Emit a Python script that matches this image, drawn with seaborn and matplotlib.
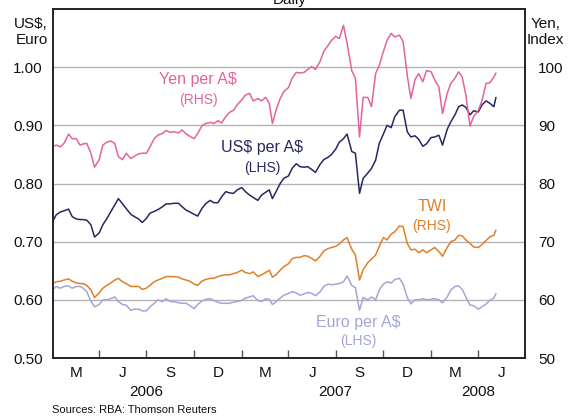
import pandas as pd
import numpy as np
import matplotlib
matplotlib.use("Agg")
import matplotlib.pyplot as plt
import matplotlib.dates as mdates
import seaborn as sns

dates = [f"{y}-{m:02d}-{d:02d}" for y in (2006, 2007, 2008) for m in range(1, 13)
         for d in (1, 8, 16, 23) if (y, m) <= (2008, 4)] + ["2008-05-01", "2008-05-05"]

# US$ per A$ (LHS)
usd = [0.734, 0.746, 0.751, 0.753, 0.756, 0.743, 0.739, 0.738, 0.738, 0.737,
       0.729, 0.708, 0.715, 0.729, 0.740, 0.751, 0.763, 0.774, 0.765, 0.757,
       0.747, 0.743, 0.739, 0.733, 0.740, 0.749, 0.752, 0.755, 0.760, 0.765,
       0.765, 0.766, 0.766, 0.760, 0.754, 0.751, 0.747, 0.744, 0.757, 0.765,
       0.771, 0.767, 0.767, 0.777, 0.786, 0.784, 0.783, 0.789, 0.793, 0.786,
       0.780, 0.776, 0.771, 0.780, 0.785, 0.789, 0.774, 0.786, 0.800, 0.809, 0.813,
       0.826, 0.834, 0.829, 0.828, 0.829, 0.824, 0.819, 0.833, 0.841, 0.845,
       0.850, 0.859, 0.871, 0.877, 0.885, 0.855, 0.852, 0.783, 0.809, 0.818,
       0.826, 0.840, 0.869, 0.885, 0.900, 0.896, 0.915, 0.926, 0.926, 0.889,
       0.880, 0.882, 0.876, 0.864, 0.868, 0.879, 0.880, 0.883, 0.866, 0.893,
       0.906, 0.918, 0.932, 0.935, 0.931, 0.918, 0.925, 0.923, 0.935, 0.942,
       0.938, 0.932, 0.948]

# Yen per A$ (RHS)
yen = [86.3, 86.6, 86.3, 86.9, 88.5, 87.7, 87.7, 86.6, 86.8, 86.9,
       85.2, 82.8, 84.1, 86.6, 87.1, 87.3, 86.9, 84.6, 84.1, 85.2,
       84.3, 84.7, 85.1, 85.2, 85.2, 86.3, 87.7, 88.3, 88.6, 89.1,
       88.8, 88.9, 88.7, 89.2, 88.5, 88.1, 87.7, 88.6, 89.9, 90.3,
       90.5, 90.3, 90.8, 90.4, 91.5, 92.2, 92.6, 93.5, 94.4, 95.2,
       95.5, 94.2, 94.6, 94.2, 94.8, 93.8, 90.3, 92.6, 94.6, 95.8, 96.5,
       98.1, 99.1, 99.0, 99.1, 99.6, 100.1, 99.6, 101.0, 102.7, 103.7,
       104.6, 105.3, 104.9, 107.2, 104.1, 99.4, 98.1, 88.0, 94.8, 94.8,
       93.2, 98.9, 100.3, 102.7, 104.6, 105.8, 105.2, 105.5, 104.4, 98.6,
       94.6, 97.9, 98.9, 97.5, 99.4, 99.2, 97.8, 96.6, 92.0, 95.5,
       97.2, 98.1, 99.2, 98.3, 95.2, 89.9, 91.5, 92.6, 94.2, 97.2,
       97.3, 98.3, 99.0]

# Trade-weighted index (RHS)
twi = [62.8, 63.1, 63.2, 63.4, 63.6, 63.2, 62.9, 62.8, 62.8, 62.5,
       61.7, 60.4, 61.2, 62.0, 62.5, 62.9, 63.4, 63.7, 63.1, 62.8,
       62.3, 62.3, 62.3, 61.8, 62.0, 62.5, 63.1, 63.4, 63.7, 64.0,
       64.0, 64.0, 63.9, 63.6, 63.4, 63.2, 62.7, 62.5, 63.2, 63.5,
       63.7, 63.7, 64.0, 64.2, 64.3, 64.3, 64.5, 64.7, 65.1, 64.7,
       64.5, 64.8, 64.0, 64.3, 64.7, 65.1, 63.9, 64.3, 65.1, 65.7, 66.2,
       67.1, 67.3, 67.3, 67.6, 67.5, 67.1, 66.7, 67.5, 68.4, 68.8,
       69.0, 69.2, 69.6, 70.3, 70.7, 68.7, 67.7, 63.4, 65.2, 66.4,
       67.0, 67.7, 69.2, 70.7, 70.3, 71.3, 71.7, 72.7, 72.6, 69.7,
       68.6, 68.7, 68.1, 68.6, 68.1, 68.6, 69.0, 68.3, 67.5, 69.0,
       70.0, 70.3, 71.1, 71.0, 70.3, 69.7, 69.1, 69.0, 69.5, 70.2,
       70.8, 71.1, 72.0]

# Euro per A$ (LHS)
euro = [0.617, 0.623, 0.620, 0.623, 0.624, 0.620, 0.623, 0.623, 0.620, 0.614,
        0.598, 0.588, 0.592, 0.600, 0.600, 0.602, 0.605, 0.597, 0.592, 0.591,
        0.582, 0.584, 0.584, 0.581, 0.581, 0.588, 0.594, 0.600, 0.597, 0.602,
        0.597, 0.597, 0.595, 0.594, 0.594, 0.590, 0.585, 0.592, 0.598, 0.601,
        0.602, 0.599, 0.596, 0.594, 0.594, 0.594, 0.596, 0.597, 0.599, 0.603,
        0.605, 0.607, 0.599, 0.597, 0.602, 0.601, 0.592, 0.597, 0.603, 0.608, 0.611,
        0.614, 0.612, 0.608, 0.610, 0.613, 0.611, 0.607, 0.614, 0.623, 0.627,
        0.626, 0.627, 0.628, 0.631, 0.641, 0.625, 0.621, 0.582, 0.604, 0.600,
        0.605, 0.600, 0.617, 0.627, 0.631, 0.629, 0.635, 0.637, 0.627, 0.604,
        0.593, 0.600, 0.600, 0.602, 0.600, 0.601, 0.602, 0.600, 0.595, 0.605,
        0.617, 0.623, 0.624, 0.618, 0.605, 0.591, 0.590, 0.584, 0.588, 0.593,
        0.599, 0.603, 0.611]

quarter_letters = ["M", "J", "S", "D"]
years = ["2006", "2007", "2008"]
left_ticks = [0.50, 0.60, 0.70, 0.80, 0.90, 1.00]
right_ticks = [50, 60, 70, 80, 90, 100]

c_yen = "#e5639c"
c_usd = "#272860"
c_twi = "#e07f26"
c_euro = "#a3a6d4"
c_grid = "#b4b4b8"

sns.set_style("white")
plt.rcParams["font.family"] = ["Liberation Sans", "DejaVu Sans"]

fig = plt.figure(figsize=(5.72, 4.18), dpi=100)
ax = fig.add_axes([0.0918, 0.1435, 0.8269, 0.835])
ax2 = ax.twinx()

d = pd.to_datetime(dates)
sns.lineplot(x=d, y=euro, ax=ax, color=c_euro, linewidth=1.1)
sns.lineplot(x=d, y=usd, ax=ax, color=c_usd, linewidth=1.1)
sns.lineplot(x=d, y=twi, ax=ax2, color=c_twi, linewidth=1.1)
sns.lineplot(x=d, y=yen, ax=ax2, color=c_yen, linewidth=1.1)

ax.set_ylim(0.5, 1.1)
ax2.set_ylim(50, 110)
ax.set_yticks(left_ticks)
ax.set_yticklabels([f"{v:.2f}" for v in left_ticks])
ax2.set_yticks(right_ticks)
ax2.set_yticklabels([str(v) for v in right_ticks])
ax.grid(axis="y", color=c_grid, linewidth=1)
ax.grid(axis="x", visible=False)
ax2.grid(False)
ax.set_axisbelow(True)

# x axis: quarter boundaries as inward ticks, quarter letters in between
start, end = pd.Timestamp("2006-01-01"), pd.Timestamp("2008-07-01")
ax.set_xlim(start, end)
q_starts = pd.date_range("2006-04-01", "2008-04-01", freq="QS")
q_mids = [pd.Timestamp(s) + (pd.Timestamp(e) - pd.Timestamp(s)) / 2
          for s, e in zip(pd.date_range(start, "2008-04-01", freq="QS"),
                          pd.date_range("2006-04-01", end, freq="QS"))]
ax.set_xticks(q_starts)
ax.set_xticklabels([])
ax.set_xticks(q_mids, minor=True)
ax.set_xticklabels([quarter_letters[i % 4] for i in range(len(q_mids))], minor=True)
ax.tick_params(axis="x", which="major", direction="in", length=6, width=1,
               color="#555555", bottom=True, top=False)
ax.tick_params(axis="x", which="minor", length=0, labelsize=11, pad=6, colors="#111111")
ax.tick_params(axis="y", length=0, labelsize=11, pad=7, colors="#111111")
ax2.tick_params(axis="y", length=0, labelsize=11, pad=9, colors="#111111")
ax.set_xlabel("")
ax.set_ylabel("")
ax2.set_ylabel("")

year_centres = [pd.Timestamp("2006-07-01"), pd.Timestamp("2007-07-01"), pd.Timestamp("2008-04-01")]
for yc, label in zip(year_centres, years):
    ax.text(mdates.date2num(yc), -0.097, label, transform=ax.get_xaxis_transform(),
            ha="center", va="center", fontsize=11, color="#111111")

for a in (ax, ax2):
    for sp in a.spines.values():
        sp.set_color("#222222")
        sp.set_linewidth(1.2)

# series labels ($ escaped so it is not read as mathtext)
ax2.text(0.308, 0.797, "Yen per A\\$", transform=ax.transAxes, ha="center", va="center",
         fontsize=11.5, color=c_yen)
ax2.text(0.308, 0.740, "(RHS)", transform=ax.transAxes, ha="center", va="center",
         fontsize=10, color=c_yen)
ax2.text(0.443, 0.602, "US\\$ per A\\$", transform=ax.transAxes, ha="center", va="center",
         fontsize=11.5, color=c_usd)
ax2.text(0.443, 0.545, "(LHS)", transform=ax.transAxes, ha="center", va="center",
         fontsize=10, color=c_usd)
ax2.text(0.802, 0.433, "TWI", transform=ax.transAxes, ha="center", va="center",
         fontsize=11.5, color=c_twi)
ax2.text(0.802, 0.378, "(RHS)", transform=ax.transAxes, ha="center", va="center",
         fontsize=10, color=c_twi)
ax2.text(0.646, 0.103, "Euro per A\\$", transform=ax.transAxes, ha="center", va="center",
         fontsize=11.5, color=c_euro)
ax2.text(0.646, 0.048, "(LHS)", transform=ax.transAxes, ha="center", va="center",
         fontsize=10, color=c_euro)

# unit labels, title and source
fig.text(48 / 572, 1 - 32 / 418, "US\\$,\nEuro", ha="right", va="center",
         multialignment="right", fontsize=11, color="#111111", linespacing=1.15)
fig.text(527 / 572, 1 - 32 / 418, "Yen,\nIndex", ha="left", va="center",
         multialignment="center", fontsize=11, color="#111111", linespacing=1.15)
fig.text(0.507, 1.0, "Daily", ha="center", va="center", fontsize=11, color="#111111")
fig.text(52 / 572, 1 - 410 / 418, "Sources: RBA: Thomson Reuters", ha="left", va="center",
         fontsize=8, color="#111111")

fig.savefig("out.png", dpi=100)
